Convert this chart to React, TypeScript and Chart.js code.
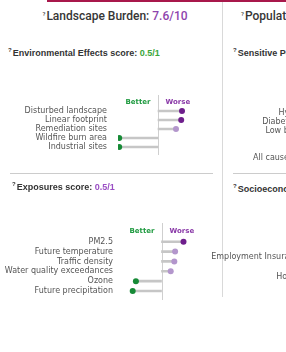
import React, { useEffect, useRef } from "react";
import { Chart, registerables } from "chart.js";
Chart.register(...registerables);

// ---- data ----
const envLabels = ["Disturbed landscape", "Linear footprint", "Remediation sites", "Wildfire burn area", "Industrial sites"];
const envValues = [0.6, 0.58, 0.45, -0.97, -0.97];

const expLabels = ["PM2.5", "Future temperature", "Traffic density", "Water quality exceedances", "Ozone", "Future precipitation"];
const expValues = [0.55, 0.34, 0.32, 0.23, -0.64, -0.72];

const sensLabels = ["Hypertension", "Diabetes mellitus", "Low birth weight", "Asthma", "COPD", "All causes mortality"];
const sensValues = [0.4, 0.3, -0.3, 0.2, 0.35, -0.4];

const socioLabels = ["Income", "Education", "Employment Insurance claims", "Crowding", "Housing costs"];
const socioValues = [0.3, -0.2, 0.4, 0.25, -0.3];

const DARK = "#6e1e8c";
const LIGHT = "#b396cc";
const GREEN = "#168a36";

function dotColor(v: number) {
  if (v < 0) return GREEN;
  return v >= 0.5 ? DARK : LIGHT;
}

const centerPlugin = {
  id: "centerLine",
  beforeDatasetsDraw(chart: any, _args: any, opts: any) {
    const ctx = chart.ctx;
    const x = Math.round(chart.scales.x.getPixelForValue(0)) + 0.5;
    ctx.save();
    ctx.strokeStyle = "#cfcfcf";
    ctx.lineWidth = 1;
    ctx.beginPath();
    ctx.moveTo(x, opts.lineTop);
    ctx.lineTo(x, opts.lineBottom);
    ctx.stroke();
    ctx.font = "bold 7px 'DejaVu Sans'";
    ctx.textBaseline = "middle";
    ctx.fillStyle = "#1f9a40";
    ctx.textAlign = "right";
    ctx.fillText("Better", x - 8, opts.headerY);
    ctx.fillStyle = "#8a3aa8";
    ctx.textAlign = "left";
    ctx.fillText("Worse", x + 7, opts.headerY);
    ctx.restore();
  },
};

type LP = {
  labels: string[];
  values: number[];
  left: number;
  top: number;
  width: number;
  height: number;
  axisWidth: number;
  tickPad: number;
  padTop: number;
  padBottom: number;
  padRight: number;
  lineTop: number;
  lineBottom: number;
  headerY: number;
};

function Lollipop(p: LP) {
  const ref = useRef<HTMLCanvasElement>(null);
  useEffect(() => {
    const c = ref.current;
    if (!c) return;
    const chart = new Chart(c, {
      type: "bar",
      data: {
        labels: p.labels,
        datasets: [
          {
            type: "line",
            indexAxis: "y",
            data: p.values,
            showLine: false,
            pointRadius: 3,
            pointHoverRadius: 3,
            pointBorderWidth: 0,
            pointBackgroundColor: p.values.map(dotColor),
            order: 0,
          } as any,
          {
            type: "bar",
            indexAxis: "y",
            data: p.values.map((v) => [0, v]),
            backgroundColor: "#c6c6c6",
            barThickness: 2,
            order: 1,
          } as any,
        ],
      },
      options: {
        indexAxis: "y",
        animation: false,
        responsive: false,
        events: [],
        layout: { autoPadding: false, padding: { top: p.padTop, bottom: p.padBottom, right: p.padRight, left: 0 } },
        plugins: {
          legend: { display: false },
          tooltip: { enabled: false },
          centerLine: { lineTop: p.lineTop, lineBottom: p.lineBottom, headerY: p.headerY },
        } as any,
        scales: {
          x: { type: "linear", min: -1, max: 1, display: false },
          y: {
            type: "category",
            offset: true,
            grid: { display: false, drawTicks: false },
            border: { display: false },
            ticks: {
              padding: p.tickPad,
              color: "#555",
              autoSkip: false,
              font: { family: "'DejaVu Sans'", size: 8 },
            },
            afterFit: (s: any) => {
              s.width = p.axisWidth;
              s.paddingTop = 0;
              s.paddingBottom = 0;
            },
          },
        },
      },
      plugins: [centerPlugin],
    });
    return () => chart.destroy();
  }, []);
  return (
    <canvas
      ref={ref}
      width={p.width}
      height={p.height}
      style={{ position: "absolute", left: p.left, top: p.top, width: p.width, height: p.height }}
    />
  );
}

const Q = () => (
  <span style={{ fontSize: 6, position: "relative", top: -4, marginRight: 1 }}>?</span>
);

const titleStyle: React.CSSProperties = {
  position: "absolute",
  top: 9,
  whiteSpace: "nowrap",
  fontSize: 12,
  lineHeight: "14px",
  color: "#363636",
  fontFamily: "Roboto, 'Liberation Sans', sans-serif",
  fontWeight: 500,
};

export default function App() {
  return (
    <div
      style={{
        position: "fixed",
        left: 0,
        top: 0,
        width: 286,
        height: 352,
        overflow: "hidden",
        background: "#fff",
        fontFamily: "'Liberation Sans', Arial, sans-serif",
      }}
    >
      <div style={{ position: "absolute", left: 47, right: 0, top: 0, height: 2, background: "#a8184b" }} />
      <div style={{ position: "absolute", left: 222, top: 2, width: 1, height: 295, background: "#d9d9d9" }} />

      {/* right panel */}
      <div style={{ position: "absolute", left: 211, top: 0, width: 75, height: 352, overflow: "hidden" }}>
        <div style={{ ...titleStyle, left: 30 }}>
          <Q />Population Vulnerability: <span style={{ color: "#8e44ad" }}>5.2/10</span>
        </div>
        <div style={{ position: "absolute", left: 22, top: 47, whiteSpace: "nowrap", fontSize: 9, lineHeight: "12px", fontWeight: "bold", color: "#333" }}>
          <Q />Sensitive Populations score: <span style={{ color: "#3aa63a" }}>0.5/1</span>
        </div>
        <div style={{ position: "absolute", left: 22, top: 173, width: 80, height: 1, background: "#cccccc" }} />
        <div style={{ position: "absolute", left: 22, top: 183, whiteSpace: "nowrap", fontSize: 9, lineHeight: "12px", fontWeight: "bold", color: "#333" }}>
          <Q />Socioeconomic Factors score: <span style={{ color: "#9a4fc4" }}>0.5/1</span>
        </div>
        <Lollipop labels={sensLabels} values={sensValues} left={0} top={88} width={250} height={80} axisWidth={132} tickPad={11} padTop={20.2} padBottom={5.8} padRight={38} lineTop={7} lineBottom={67} headerY={13} />
        <Lollipop labels={socioLabels} values={socioValues} left={0} top={218} width={250} height={86} axisWidth={132} tickPad={11} padTop={15.15} padBottom={22.35} padRight={38} lineTop={5} lineBottom={82} headerY={13} />
      </div>

      {/* left panel */}
      <div style={{ position: "absolute", left: 0, top: 0, width: 211, height: 352 }}>
        <div style={{ ...titleStyle, left: 0, width: 230, textAlign: "center" }}>
          <Q />Landscape Burden: <span style={{ color: "#8e44ad" }}>7.6/10</span>
        </div>
        <div style={{ position: "absolute", left: 8, top: 47, whiteSpace: "nowrap", fontSize: 9, lineHeight: "12px", fontWeight: "bold", color: "#333" }}>
          <Q />Environmental Effects score: <span style={{ color: "#3aa63a" }}>0.5/1</span>
        </div>
        <div style={{ position: "absolute", left: 10, top: 173, width: 203, height: 1, background: "#cccccc" }} />
        <div style={{ position: "absolute", left: 12, top: 181, whiteSpace: "nowrap", fontSize: 9, lineHeight: "12px", fontWeight: "bold", color: "#333" }}>
          <Q />Exposures score: <span style={{ color: "#9a4fc4" }}>0.5/1</span>
        </div>
        <Lollipop labels={envLabels} values={envValues} left={0} top={88} width={212} height={72} axisWidth={118} tickPad={11} padTop={18.5} padBottom={8.5} padRight={14} lineTop={7} lineBottom={67} headerY={13.7} />
        <Lollipop labels={expLabels} values={expValues} left={0} top={218} width={212} height={86} axisWidth={121.5} tickPad={8.5} padTop={18.8} padBottom={8.1} padRight={10.5} lineTop={5} lineBottom={82} headerY={13} />
      </div>
    </div>
  );
}
